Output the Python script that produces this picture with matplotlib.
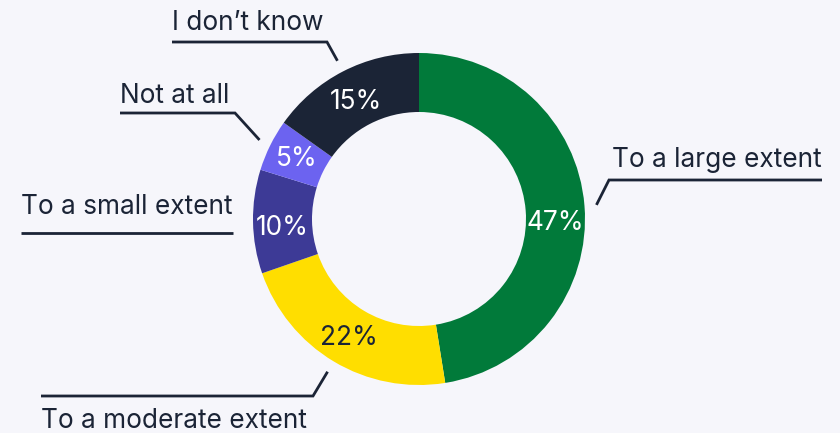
import numpy as np
import matplotlib
matplotlib.use("Agg")
import matplotlib.pyplot as plt

plt.rcParams['font.family'] = ['Inter', 'DejaVu Sans']

categories = ["To a large extent", "To a moderate extent", "To a small extent", "Not at all", "I don\u2019t know"]
values = [47, 22, 10, 5, 15]
colors = ["#017a3a", "#ffde00", "#3d3a96", "#6c63f0", "#1b2436"]
pct_colors = ["white", "#1b2436", "white", "white", "white"]
pct_dy = [15, 2, 7, 1, 4]  # label nudges (px, downward)

W, H = 840, 433
BG = "#f6f6fb"
INK = "#1b2436"

fig = plt.figure(figsize=(W / 100, H / 100), dpi=100, facecolor=BG)
ax = fig.add_axes([0, 0, 1, 1])
ax.set_facecolor(BG)

cx, cy = 419, H - 219
R = 166
ring = 59

wedges, _ = ax.pie(values, colors=colors, startangle=90, counterclock=False,
                   center=(cx, cy), radius=R, frame=False,
                   wedgeprops=dict(width=ring, edgecolor='none'))
ax.set_xlim(0, W)
ax.set_ylim(0, H)
ax.set_aspect('equal')
ax.axis('off')

fs_lab = 18.9
fs_pct = 18.9
rmid = R - ring / 2
for w, v, c, dy in zip(wedges, values, pct_colors, pct_dy):
    ang = np.deg2rad((w.theta1 + w.theta2) / 2)
    ax.text(cx + rmid * np.cos(ang), cy + rmid * np.sin(ang) - dy, f"{v}%",
            ha='center', va='center', color=c, fontsize=fs_pct)

# leader layout (pixel coords, y from top): elbow point, end x, text anchor
layout = {
    "To a large extent": dict(elbow=(609, 180), end=822, text=(612, 167), va='baseline'),
    "To a moderate extent": dict(elbow=(313, 396), end=41, text=(41, 408), va='top'),
    "To a small extent": dict(elbow=None, start=(233, 233), end=21, text=(21, 214), va='baseline'),
    "Not at all": dict(elbow=(235, 113), end=120, text=(120, 103), va='baseline'),
    "I don\u2019t know": dict(elbow=(327, 42), end=172, text=(172, 30), va='baseline'),
}
rline = R + 12
for w, cat in zip(wedges, categories):
    L = layout[cat]
    ang = np.deg2rad((w.theta1 + w.theta2) / 2)
    if L['elbow'] is not None:
        sx, sy = cx + rline * np.cos(ang), cy + rline * np.sin(ang)
        ex, ey = L['elbow'][0], H - L['elbow'][1]
        xs, ys = [sx, ex, L['end']], [sy, ey, ey]
    else:
        ex, ey = L['start'][0], H - L['start'][1]
        xs, ys = [ex, L['end']], [ey, ey]
    ax.plot(xs, ys, color=INK, lw=2, solid_capstyle='butt', solid_joinstyle='miter')
    ax.text(L['text'][0], H - L['text'][1], cat, ha='left', va=L['va'],
            color=INK, fontsize=fs_lab)

fig.savefig("out.png", dpi=100, facecolor=BG)
